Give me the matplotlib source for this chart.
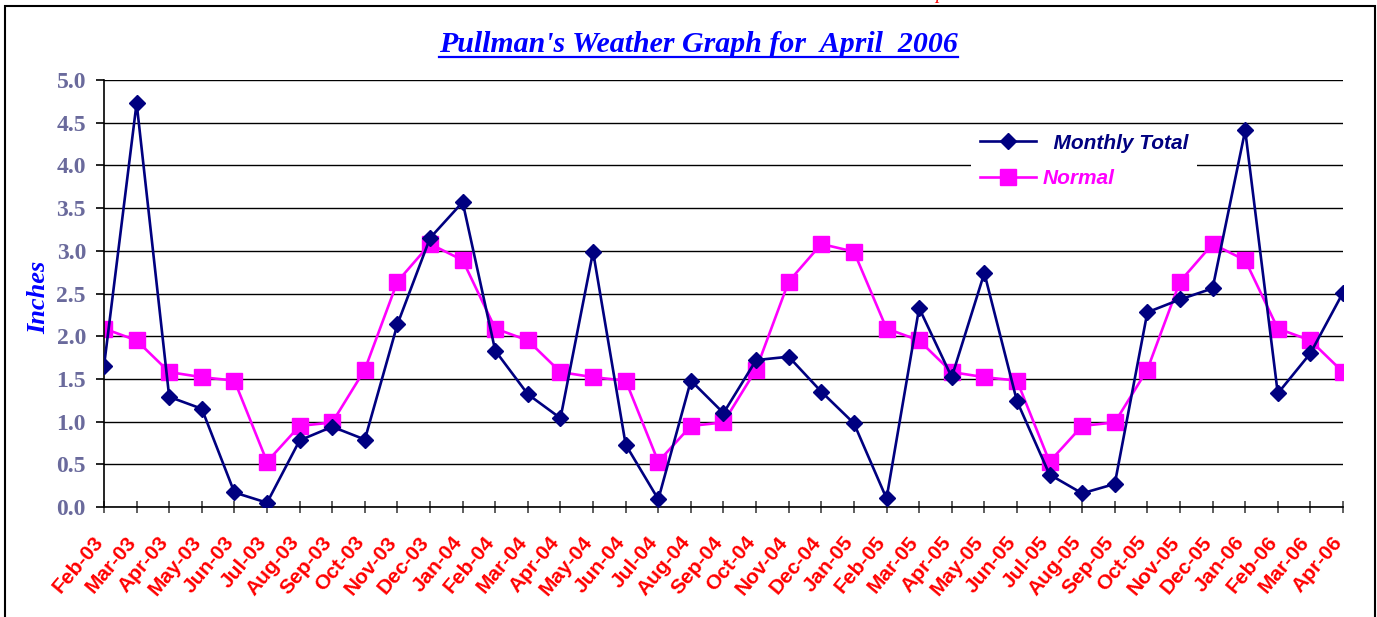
import matplotlib
matplotlib.use("Agg")
import matplotlib.pyplot as plt
from matplotlib.patches import Rectangle
from matplotlib.lines import Line2D

months = ["Feb-03", "Mar-03", "Apr-03", "May-03", "Jun-03", "Jul-03", "Aug-03", "Sep-03",
          "Oct-03", "Nov-03", "Dec-03", "Jan-04", "Feb-04", "Mar-04", "Apr-04", "May-04",
          "Jun-04", "Jul-04", "Aug-04", "Sep-04", "Oct-04", "Nov-04", "Dec-04", "Jan-05",
          "Feb-05", "Mar-05", "Apr-05", "May-05", "Jun-05", "Jul-05", "Aug-05", "Sep-05",
          "Oct-05", "Nov-05", "Dec-05", "Jan-06", "Feb-06", "Mar-06", "Apr-06"]

monthly_total = [1.65, 4.73, 1.29, 1.15, 0.17, 0.05, 0.78, 0.94, 0.79, 2.14,
                 3.15, 3.57, 1.83, 1.32, 1.04, 2.99, 0.73, 0.09, 1.48, 1.10,
                 1.72, 1.76, 1.35, 0.98, 0.10, 2.33, 1.52, 2.74, 1.24, 0.38,
                 0.16, 0.27, 2.28, 2.43, 2.56, 4.41, 1.33, 1.80, 2.51]

normal = [2.09, 1.95, 1.58, 1.52, 1.48, 0.53, 0.95, 0.99, 1.61, 2.64,
          3.08, 2.89, 2.09, 1.95, 1.58, 1.52, 1.48, 0.53, 0.95, 0.99,
          1.61, 2.64, 3.08, 2.99, 2.09, 1.95, 1.58, 1.52, 1.48, 0.53,
          0.95, 0.99, 1.61, 2.64, 3.08, 2.89, 2.09, 1.95, 1.58]

y_ticks = [0.0, 0.5, 1.0, 1.5, 2.0, 2.5, 3.0, 3.5, 4.0, 4.5, 5.0]

W, H = 1377, 617
fig = plt.figure(figsize=(W / 100, H / 100), dpi=100)
fig.patch.set_facecolor("white")

left, right, top, bottom = 104, 1343, 80, 507
ax = fig.add_axes([left / W, 1 - bottom / H, (right - left) / W, (bottom - top) / H])

x = list(range(len(months)))
ax.plot(x, monthly_total, color="#000080", lw=1.9, marker="D", ms=8.5,
        mfc="#000080", mec="#000080", label="  Monthly Total", zorder=3)
ax.plot(x, normal, color="#FF00FF", lw=1.9, marker="s", ms=11,
        mfc="#FF00FF", mec="#FF00FF", label="Normal", zorder=2)

ax.set_xlim(0, len(months) - 1)
ax.set_ylim(0, 5.0)
ax.set_yticks(y_ticks)
ax.set_yticklabels([f"{v:.1f}" for v in y_ticks],
                   fontfamily="Liberation Serif", fontweight="bold",
                   fontsize=17, color="#6A6A9C")
ax.set_xticks(x)
ax.set_xticklabels(months, rotation=50, ha="right", va="baseline",
                   rotation_mode="anchor", fontfamily="Liberation Sans",
                   fontweight="bold", fontsize=15, color="#FF0000")

ax.yaxis.grid(True, color="black", lw=1.0, zorder=0)
ax.set_axisbelow(True)
for s in ["top", "right"]:
    ax.spines[s].set_visible(False)
ax.spines["left"].set_color("black")
ax.spines["bottom"].set_color("black")
ax.spines["left"].set_linewidth(1.2)
ax.spines["bottom"].set_linewidth(1.2)
ax.tick_params(axis="x", direction="inout", length=9, width=1.2, color="#444444", pad=21)
ax.tick_params(axis="y", direction="out", length=6, width=1.2, color="black", pad=7)

ax.set_ylabel("Inches", fontfamily="Liberation Serif", fontweight="bold",
              fontstyle="italic", fontsize=19, color="#0000FF")
ax.yaxis.set_label_coords(-0.0436, 0.492)

leg = ax.legend(loc="upper left", bbox_to_anchor=(0.70, 0.894), frameon=True,
                facecolor="white", edgecolor="none", framealpha=1, fancybox=False,
                handlelength=2.7, handletextpad=0.3, labelspacing=0.78,
                borderpad=0.4, borderaxespad=0,
                prop={"family": "Liberation Sans", "weight": "bold",
                      "style": "italic", "size": 15})
for t, c in zip(leg.get_texts(), ["#000080", "#FF00FF"]):
    t.set_color(c)

title = fig.text(0.507, 1 - 52 / H, "Pullman's Weather Graph for  April  2006",
                 ha="center", va="baseline", fontfamily="Liberation Serif",
                 fontweight="bold", fontstyle="italic", fontsize=21.5, color="#0000FF")

# underline the title
renderer = fig.canvas.get_renderer()
bb = title.get_window_extent(renderer=renderer)
uy = (H - 56.5) / H
fig.add_artist(Line2D([bb.x0 / W, bb.x1 / W], [uy, uy], transform=fig.transFigure,
                      color="#0000FF", lw=1.6))

# clipped red text at very top (as in the reference)
fig.text(940 / W, 1.0 + 1 / H, "p", ha="center", va="baseline",
         fontfamily="Liberation Serif", fontstyle="italic", fontsize=14, color="#FF0000")

# chart border
fig.add_artist(Rectangle((5 / W, -0.05), (1375 - 5) / W, 1.05 - 5.5 / H,
                         transform=fig.transFigure, fill=False, ec="black", lw=1.5))

fig.savefig("out.png", dpi=100)
